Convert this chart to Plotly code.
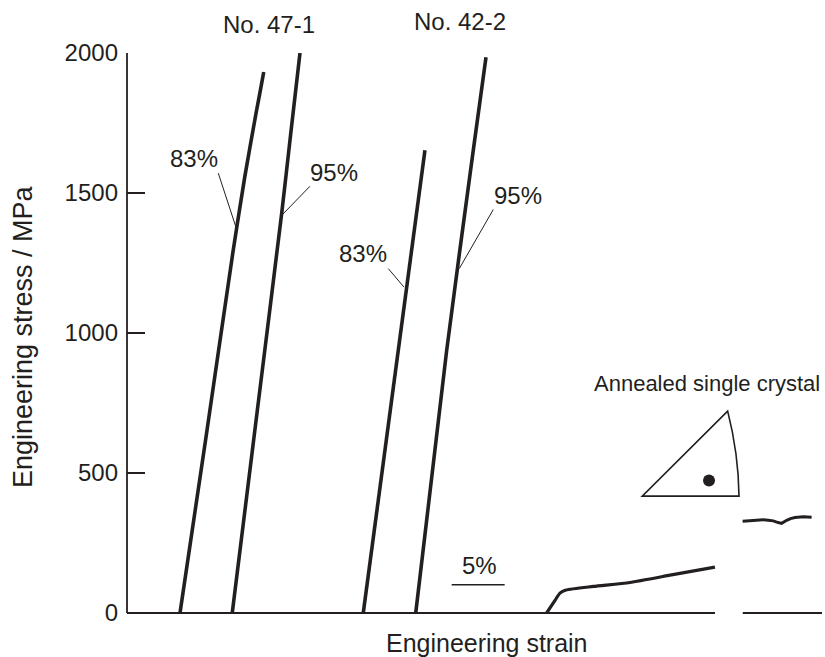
import plotly.graph_objects as go

# ---- data (strain in %, stress in MPa) ----
s47_83_strain = [5.0, 7.5, 10.0, 11.1, 12.2, 12.6, 12.9]
s47_83_stress = [0, 640, 1290, 1555, 1790, 1870, 1932]

s47_95_strain = [9.93, 12.26, 14.59, 15.45, 16.32]
s47_95_stress = [0, 713, 1426, 1713, 2000]

s42_83_strain = [22.29, 25.59, 28.11]
s42_83_stress = [0, 938, 1653]

s42_95_strain = [27.24, 30.16, 32.67, 33.87]
s42_95_stress = [0, 938, 1653, 1985]

ann_strain = [39.59, 40.38, 40.85, 41.42, 44.0, 47.45, 51.5, 55.47]
ann_stress = [0, 45, 71, 82, 95, 109, 137, 164]

ann2_strain = [58.08, 58.6, 59.08, 59.6, 60.03, 60.5, 60.97, 61.44, 61.76, 62.24, 62.6, 63.02, 63.4, 63.8, 64.2, 64.59]
ann2_stress = [328, 330, 331, 332, 333, 331, 329, 323, 320, 331, 337, 341, 343, 344, 343, 342]

y_ticks = [0, 500, 1000, 1500, 2000]

# labels: (text, strain, stress)
curve_labels = [("83%", 6.32, 1622), ("95%", 19.53, 1574), ("83%", 22.22, 1283), ("95%", 36.89, 1492)]
leaders = [((8.61, 1571), (10.28, 1378)), ((17.26, 1524), (14.59, 1420)),
           ((24.65, 1230), (26.13, 1164)), ((34.56, 1441), (31.35, 1230))]
# specimen labels in paper coordinates (above the plot area)
specimen_labels = [("No. 47-1", 0.2043, 1.050), ("No. 42-2", 0.4791, 1.057)]

INK = "#231F20"
FONT = "Liberation Sans, Arial, Helvetica, sans-serif"
FS = 24

fig = go.Figure()
for xs, ys, w, shp in [(s47_83_strain, s47_83_stress, 3.6, "spline"), (s47_95_strain, s47_95_stress, 3.6, "spline"),
                       (s42_83_strain, s42_83_stress, 3.6, "linear"), (s42_95_strain, s42_95_stress, 3.6, "spline"),
                       (ann_strain, ann_stress, 3.2, "spline"), (ann2_strain, ann2_stress, 3.0, "linear")]:
    line = dict(color=INK, width=w, shape=shp)
    if shp == "spline":
        line["smoothing"] = 0.6
    fig.add_trace(go.Scatter(x=xs, y=ys, mode="lines", line=line, showlegend=False, hoverinfo="skip"))

# orientation dot in inverse pole figure
fig.add_trace(go.Scatter(x=[54.91], y=[473.4], mode="markers", marker=dict(color=INK, size=12),
                         showlegend=False, hoverinfo="skip"))

shapes = []
# y axis line
shapes.append(dict(type="line", xref="paper", yref="paper", x0=0, x1=0, y0=0, y1=1, line=dict(color=INK, width=1.8)))
# x axis line with break
shapes.append(dict(type="line", xref="paper", yref="paper", x0=0, x1=0.846, y0=0, y1=0, line=dict(color=INK, width=1.8)))
shapes.append(dict(type="line", xref="paper", yref="paper", x0=0.886, x1=1, y0=0, y1=0, line=dict(color=INK, width=1.8)))
# 5% scale bar
shapes.append(dict(type="line", xref="x", yref="y", x0=30.63, x1=35.63, y0=100.7, y1=100.7, line=dict(color=INK, width=1.5)))
# leader lines
for (a, b) in leaders:
    shapes.append(dict(type="line", xref="x", yref="y", x0=a[0], y0=a[1], x1=b[0], y1=b[1], line=dict(color=INK, width=1)))
# stereographic triangle
shapes.append(dict(type="path", xref="x", yref="y",
                   path="M 48.61,417.3 L 57.74,417.3 Q 57.69,569.9 56.67,721 Z",
                   line=dict(color=INK, width=1.6)))

annotations = []
for t, x, y in curve_labels:
    annotations.append(dict(text=t, x=x, y=y, xref="x", yref="y", showarrow=False,
                            xanchor="center", yanchor="middle",
                            font=dict(family=FONT, size=FS, color=INK)))
for t, x, y in specimen_labels:
    annotations.append(dict(text=t, x=x, y=y, xref="paper", yref="paper", showarrow=False,
                            xanchor="center", yanchor="middle",
                            font=dict(family=FONT, size=FS, color=INK)))
annotations.append(dict(text="5%", x=33.21, y=170, xref="x", yref="y", showarrow=False,
                        xanchor="center", yanchor="middle",
                        font=dict(family=FONT, size=FS, color=INK)))
annotations.append(dict(text="Annealed single crystal", x=54.72, y=821, xref="x", yref="y", showarrow=False,
                        xanchor="center", yanchor="middle",
                        font=dict(family=FONT, size=22, color=INK)))
annotations.append(dict(text="Engineering strain", x=0.5173, y=-0.0536, xref="paper", yref="paper", showarrow=False,
                        xanchor="center", yanchor="middle",
                        font=dict(family=FONT, size=25, color=INK)))
annotations.append(dict(text="Engineering stress / MPa", x=-0.1496, y=0.4929, xref="paper", yref="paper",
                        showarrow=False, textangle=-90, xanchor="center", yanchor="middle",
                        font=dict(family=FONT, size=27, color=INK)))

fig.update_layout(
    width=825, height=657,
    margin=dict(l=127, r=3, t=53, b=44),
    paper_bgcolor="white", plot_bgcolor="white",
    shapes=shapes, annotations=annotations,
    xaxis=dict(range=[0, 65.57], showgrid=False, zeroline=False, showline=False, showticklabels=False, ticks=""),
    yaxis=dict(range=[0, 2000], showgrid=False, zeroline=False, showline=False,
               tickvals=y_ticks, ticktext=[str(v) for v in y_ticks],
               ticks="inside", ticklen=18, tickwidth=1.8, tickcolor=INK,
               ticklabelstandoff=8,
               tickfont=dict(family=FONT, size=FS, color=INK)),
)

fig.write_html("out.html")
